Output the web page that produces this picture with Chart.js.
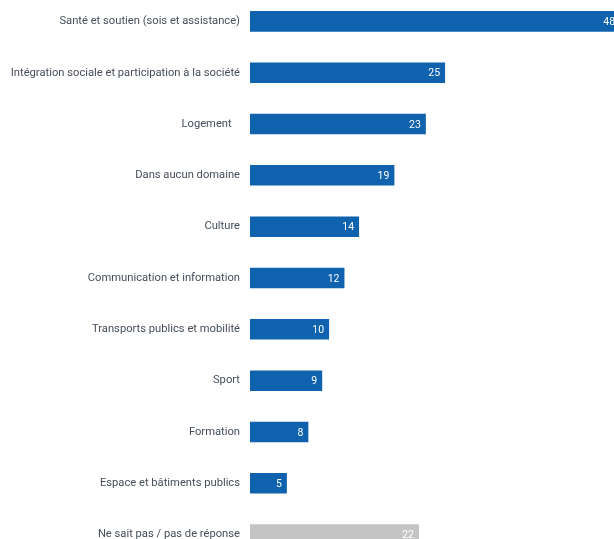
<!DOCTYPE html>
<html>
<head>
<meta charset="utf-8">
<script src="https://cdn.jsdelivr.net/npm/chart.js@4"></script>
<style>
  html, body { margin: 0; padding: 0; background: #fff; overflow: hidden; }
  #wrap { position: absolute; left: 0; top: -13px; width: 634px; height: 582px; }
</style>
</head>
<body>
<div id="wrap"><canvas id="myChart"></canvas></div>
<script>
const categories = [
  'Santé et soutien (sois et assistance)',
  'Intégration sociale et participation à la société',
  'Logement   ',
  'Dans aucun domaine',
  'Culture',
  'Communication et information',
  'Transports publics et mobilité',
  'Sport',
  'Formation',
  'Espace et bâtiments publics',
  'Ne sait pas / pas de réponse'
]
const values = [48.2, 25.4, 22.9, 18.8, 14.2, 12.3, 10.3, 9.4, 7.6, 4.8, 22.0]
const colors = ['#0f62ae', '#0f62ae', '#0f62ae', '#0f62ae', '#0f62ae', '#0f62ae',
                '#0f62ae', '#0f62ae', '#0f62ae', '#0f62ae', '#c4c4c4']

// value labels at the inside end of every bar
const barLabels = {
  id: 'barLabels',
  afterDatasetsDraw(chart) {
    const ctx = chart.ctx
    const meta = chart.getDatasetMeta(0)
    ctx.save()
    ctx.font = '10.5px Roboto'
    ctx.fillStyle = '#ffffff'
    ctx.textAlign = 'right'
    ctx.textBaseline = 'middle'
    meta.data.forEach((bar, i) => {
      ctx.fillText(Math.round(values[i]), bar.x - 5, bar.y + 1)
    })
    ctx.restore()
  }
}

const ctx = document.getElementById('myChart').getContext('2d')
new Chart(ctx, {
  type: 'bar',
  data: {
    labels: categories,
    datasets: [{
      data: values,
      backgroundColor: colors,
      borderWidth: 0,
      barPercentage: 0.4,
      categoryPercentage: 1
    }]
  },
  options: {
    indexAxis: 'y',
    responsive: true,
    maintainAspectRatio: false,
    animation: false,
    layout: { padding: 0 },
    scales: {
      x: {
        display: false,
        min: 0,
        max: 50
      },
      y: {
        grid: { display: false },
        border: { display: false },
        ticks: {
          color: '#454e5a',
          font: { family: 'Roboto', size: 11.2 },
          padding: 2
        },
        afterFit(scale) { scale.width = 250 }
      }
    },
    plugins: {
      legend: { display: false },
      tooltip: { enabled: false }
    }
  },
  plugins: [barLabels]
})
</script>
</body>
</html>
